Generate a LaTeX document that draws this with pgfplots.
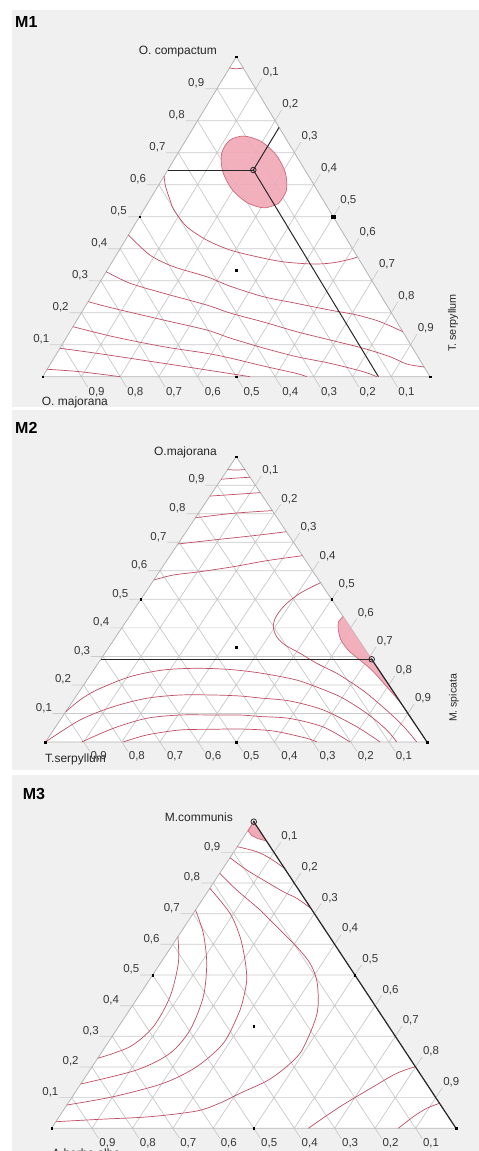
\documentclass[border=0pt]{standalone}
\usepackage{fontspec}
\setmainfont{Liberation Sans}
\usepackage{pgfplots}
\usepackage{pgfplotstable}
\pgfplotsset{compat=1.18}

\definecolor{panelbg}{RGB}{240,240,240}
\definecolor{gridc}{RGB}{202,202,202}
\definecolor{edgec}{RGB}{180,180,180}
\definecolor{cont}{RGB}{192,78,100}
\definecolor{pinkf}{RGB}{241,170,184}
\definecolor{pinkd}{RGB}{205,105,122}
\definecolor{tickc}{RGB}{55,55,55}
\definecolor{optc}{RGB}{40,40,40}

% ternary grid in (u,v): u along the base, v = share of the top component
\pgfplotstableread{
u v
0.019 0.1
0.95 0.1
nan nan
0.069 0.2
0.9 0.2
nan nan
0.119 0.3
0.85 0.3
nan nan
0.169 0.4
0.8 0.4
nan nan
0.219 0.5
0.75 0.5
nan nan
0.269 0.6
0.7 0.6
nan nan
0.319 0.7
0.65 0.7
nan nan
0.369 0.8
0.6 0.8
nan nan
0.419 0.9
0.55 0.9
nan nan
0.1 0
0.5665 0.933
nan nan
0.2 0
0.6165 0.833
nan nan
0.3 0
0.6665 0.733
nan nan
0.4 0
0.7165 0.633
nan nan
0.5 0
0.7665 0.533
nan nan
0.6 0
0.8165 0.433
nan nan
0.7 0
0.8665 0.333
nan nan
0.8 0
0.9165 0.233
nan nan
0.9 0
0.9665 0.133
nan nan
0.05 0.1
0.1165 -0.033
nan nan
0.1 0.2
0.2165 -0.033
nan nan
0.15 0.3
0.3165 -0.033
nan nan
0.2 0.4
0.4165 -0.033
nan nan
0.25 0.5
0.5165 -0.033
nan nan
0.3 0.6
0.6165 -0.033
nan nan
0.35 0.7
0.7165 -0.033
nan nan
0.4 0.8
0.8165 -0.033
nan nan
0.45 0.9
0.9165 -0.033
}\gridtab

\pgfplotsset{
  ternax/.style={anchor=south west, scale only axis, xmin=0, xmax=1, ymin=0, ymax=1,
    hide axis, clip=false, unbounded coords=jump},
  cont/.style={color=cont, line width=0.7pt, smooth},
}
\tikzset{
  lab/.style={font=\fontsize{11.5}{13}\selectfont, text=tickc, inner sep=0.6pt},
  ttl/.style={font=\fontsize{12}{14}\selectfont, text=black!85, inner sep=0pt},
  ptl/.style={font=\fontsize{16}{18}\selectfont\bfseries, text=black, inner sep=0pt},
}

\newcommand\ternframe{%
  \addplot[draw=none, fill=white] coordinates {(0,0) (1,0) (0.5,1) (0,0)};
  \addplot[gridc, line width=0.7pt] table[x=u, y=v] {\gridtab};
  \addplot[edgec, line width=0.8pt] coordinates {(0,0) (1,0) (0.5,1) (0,0)};
  \node[lab, anchor=south east] at (axis cs:0.019,0.1) {0,1};
  \node[lab, anchor=south east] at (axis cs:0.069,0.2) {0,2};
  \node[lab, anchor=south east] at (axis cs:0.119,0.3) {0,3};
  \node[lab, anchor=south east] at (axis cs:0.169,0.4) {0,4};
  \node[lab, anchor=south east] at (axis cs:0.219,0.5) {0,5};
  \node[lab, anchor=south east] at (axis cs:0.269,0.6) {0,6};
  \node[lab, anchor=south east] at (axis cs:0.319,0.7) {0,7};
  \node[lab, anchor=south east] at (axis cs:0.369,0.8) {0,8};
  \node[lab, anchor=south east] at (axis cs:0.419,0.9) {0,9};
  \node[lab, anchor=south west] at (axis cs:0.5665,0.933) {0,1};
  \node[lab, anchor=south west] at (axis cs:0.6165,0.833) {0,2};
  \node[lab, anchor=south west] at (axis cs:0.6665,0.733) {0,3};
  \node[lab, anchor=south west] at (axis cs:0.7165,0.633) {0,4};
  \node[lab, anchor=south west] at (axis cs:0.7665,0.533) {0,5};
  \node[lab, anchor=south west] at (axis cs:0.8165,0.433) {0,6};
  \node[lab, anchor=south west] at (axis cs:0.8665,0.333) {0,7};
  \node[lab, anchor=south west] at (axis cs:0.9165,0.233) {0,8};
  \node[lab, anchor=south west] at (axis cs:0.9665,0.133) {0,9};
  \node[lab, anchor=north west, yshift=1pt] at (axis cs:0.1165,-0.033) {0,9};
  \node[lab, anchor=north west, yshift=1pt] at (axis cs:0.2165,-0.033) {0,8};
  \node[lab, anchor=north west, yshift=1pt] at (axis cs:0.3165,-0.033) {0,7};
  \node[lab, anchor=north west, yshift=1pt] at (axis cs:0.4165,-0.033) {0,6};
  \node[lab, anchor=north west, yshift=1pt] at (axis cs:0.5165,-0.033) {0,5};
  \node[lab, anchor=north west, yshift=1pt] at (axis cs:0.6165,-0.033) {0,4};
  \node[lab, anchor=north west, yshift=1pt] at (axis cs:0.7165,-0.033) {0,3};
  \node[lab, anchor=north west, yshift=1pt] at (axis cs:0.8165,-0.033) {0,2};
  \node[lab, anchor=north west, yshift=1pt] at (axis cs:0.9165,-0.033) {0,1};
}

\begin{document}
\begin{tikzpicture}
\fill[white] (0pt,0pt) rectangle (479pt,1151pt);
\fill[panelbg] (12pt,744pt) rectangle (479pt,1141pt);
\fill[panelbg] (12pt,381pt) rectangle (479pt,741pt);
\fill[panelbg] (12pt,0pt) rectangle (479pt,376pt);

% ---------------- M1 ----------------
\node[ptl, anchor=base west] at (15pt,1123pt) {M1};
\node[ttl, anchor=base east] at (217pt,1096pt) {O. compactum};
\node[ttl, anchor=base west] at (41.7pt,745pt) {O. majorana};
\node[ttl, rotate=90, font=\fontsize{10.8}{12}\selectfont] at (453pt,828pt) {T. serpyllum};
\begin{axis}[ternax, at={(42.7pt,774.3pt)}, width=387.3pt, height=320pt]
\ternframe
\addplot[cont] coordinates {(0.482,0.965) (0.5,0.962) (0.518,0.965)};
\addplot[cont] coordinates {(0.3134,0.627) (0.317,0.596) (0.3287,0.552) (0.339,0.521) (0.3718,0.469) (0.4234,0.427) (0.4836,0.396) (0.5525,0.375) (0.6212,0.359) (0.6987,0.352) (0.7503,0.356) (0.7934,0.367) (0.813,0.374)};
\addplot[cont] coordinates {(0.2213,0.4428) (0.277,0.380) (0.3372,0.344) (0.4234,0.3125) (0.4836,0.283) (0.5696,0.25) (0.6558,0.229) (0.7418,0.208) (0.8107,0.193) (0.8709,0.172) (0.9297,0.1406)};
\addplot[cont] coordinates {(0.164,0.328) (0.2254,0.292) (0.3114,0.261) (0.4234,0.224) (0.4836,0.199) (0.5696,0.171) (0.6558,0.1406) (0.7418,0.1147) (0.8278,0.0888) (0.8967,0.0625) (0.9398,0.0397) (0.9848,0.0303)};
\addplot[cont] coordinates {(0.1172,0.2344) (0.1823,0.2138) (0.3114,0.1772) (0.4234,0.1459) (0.4836,0.1209) (0.5696,0.0897) (0.6558,0.0625) (0.7418,0.0419) (0.8278,0.0156) (0.8624,0)};
\addplot[cont] coordinates {(0.0781,0.1563) (0.1823,0.125) (0.3114,0.0938) (0.4234,0.0731) (0.4836,0.0584) (0.5696,0.0334) (0.6558,0.01) (0.6816,0)};
\addplot[cont] coordinates {(0.0444,0.0888) (0.1394,0.0731) (0.3114,0.0419) (0.432,0.0194) (0.5352,0)};
\addplot[cont] coordinates {(0.0116,0.0231) (0.0963,0.0156) (0.1996,0)};
\addplot[smooth, fill=pinkf, draw=pinkd, line width=0.7pt, fill opacity=0.92] coordinates {(0.6091,0.5413) (0.629,0.5813) (0.6266,0.6369) (0.6026,0.6934) (0.5631,0.7356) (0.519,0.7519) (0.4821,0.7381) (0.4622,0.6981) (0.4645,0.6425) (0.4885,0.5859) (0.528,0.5438) (0.5722,0.5275) (0.6091,0.5413)};
\addplot[optc, line width=1pt] coordinates {(0.323,0.6459) (0.5438,0.6459)};
\addplot[optc, line width=1pt] coordinates {(0.5438,0.6459) (0.6104,0.7791)};
\addplot[optc, line width=1pt] coordinates {(0.5438,0.6459) (0.8668,0)};
\addplot[only marks, mark=square*, mark size=0.8pt, black] coordinates {(0,0) (1,0) (0.5,1) (0.25,0.5) (0.5,0) (0.5,0.3333)};
\addplot[only marks, mark=square*, mark size=1.8pt, black] coordinates {(0.75,0.5)};
\addplot[only marks, mark=o, mark size=2.8pt, line width=0.8pt, optc] coordinates {(0.5438,0.6459)};
\addplot[only marks, mark=*, mark size=0.7pt, optc] coordinates {(0.5438,0.6459)};
\end{axis}

% ---------------- M2 ----------------
\node[ptl, anchor=base west] at (15pt,717.7pt) {M2};
\node[ttl, anchor=base east] at (217pt,695pt) {O.majorana};
\node[ttl, anchor=base west] at (45pt,388.5pt) {T.serpyllum};
\node[ttl, rotate=90, font=\fontsize{10.5}{12}\selectfont] at (454pt,453pt) {M. spicata};
\begin{axis}[ternax, at={(45.5pt,409pt)}, width=381.5pt, height=285.3pt]
\ternframe
\addplot[cont] coordinates {(0.4775,0.955) (0.5,0.953) (0.5225,0.955)};
\addplot[cont] coordinates {(0.4605,0.921) (0.5,0.925) (0.536,0.928)};
\addplot[cont] coordinates {(0.431,0.862) (0.4923,0.8675) (0.563,0.874)};
\addplot[cont] coordinates {(0.393,0.786) (0.4923,0.8016) (0.5945,0.811)};
\addplot[cont] coordinates {(0.347,0.694) (0.4398,0.708) (0.5447,0.7231) (0.6315,0.737)};
\addplot[cont] coordinates {(0.2839,0.5678) (0.335,0.5853) (0.405,0.5969) (0.4923,0.6144) (0.5798,0.6355) (0.6735,0.653)};
\addplot[cont] coordinates {(0.7208,0.5584) (0.6671,0.5212) (0.6278,0.4802) (0.6042,0.4392) (0.5971,0.4041) (0.606,0.3691) (0.6278,0.34) (0.6671,0.3109) (0.7109,0.2758) (0.7633,0.2408) (0.7982,0.2114) (0.8419,0.1707) (0.903,0.1006) (0.9423,0.0491) (0.973,0)};
\addplot[cont] coordinates {(0.0532,0.1062) (0.0904,0.1472) (0.1342,0.1823) (0.2215,0.2289) (0.3088,0.2524) (0.3963,0.2583) (0.4836,0.2541) (0.5623,0.2419) (0.6409,0.2226) (0.6847,0.2057) (0.772,0.1588) (0.8419,0.1006) (0.8944,0.0421) (0.9206,0)};
\addplot[cont] coordinates {(0,0) (0.0904,0.0771) (0.1777,0.1237) (0.2653,0.1532) (0.3526,0.1647) (0.4398,0.1647) (0.5098,0.1612) (0.5623,0.1542) (0.6409,0.1437) (0.7282,0.1122) (0.8157,0.0536) (0.8768,0)};
\addplot[cont] coordinates {(0.0949,0) (0.1777,0.048) (0.2653,0.0831) (0.3526,0.0946) (0.4398,0.0946) (0.5098,0.0946) (0.5623,0.0894) (0.6409,0.0824) (0.7282,0.0526) (0.7982,0)};
\addplot[cont] coordinates {(0.2039,0) (0.2653,0.0245) (0.3526,0.0421) (0.4398,0.0445) (0.5098,0.0456) (0.5971,0.0386) (0.6847,0.013) (0.7109,0)};
\addplot[smooth, fill=pinkf, draw=pinkd, line width=0.7pt, fill opacity=0.92] coordinates {(0.78,0.44) (0.768,0.4206) (0.7675,0.3926) (0.7746,0.3575) (0.7929,0.3225) (0.8157,0.2962) (0.855,0.2524) (0.8944,0.1938) (0.9322,0.1356)};
\addplot[optc, line width=1pt] coordinates {(0.145,0.29) (0.855,0.29)};
\addplot[optc, line width=1.2pt] coordinates {(0.855,0.29) (1,0)};
\addplot[only marks, mark=square*, mark size=0.8pt, black] coordinates {(0,0) (1,0) (0.5,1) (0.25,0.5) (0.75,0.5) (0.5,0) (0.5,0.3333)};
\addplot[only marks, mark=o, mark size=2.8pt, line width=0.8pt, optc] coordinates {(0.855,0.29)};
\addplot[only marks, mark=*, mark size=0.7pt, optc] coordinates {(0.855,0.29)};
\end{axis}

% ---------------- M3 ----------------
\node[ptl, anchor=base west] at (22.7pt,351pt) {M3};
\node[ttl, anchor=base east] at (233pt,329pt) {M.communis};
\node[ttl, anchor=base west] at (52pt,-6.5pt) {A.herba alba};
\begin{axis}[ternax, at={(51.5pt,22.7pt)}, width=404.5pt, height=306.6pt]
\ternframe
\addplot[cont] coordinates {(0.4592,0.9185) (0.5073,0.9022) (0.5402,0.8806) (0.576,0.848)};
\addplot[cont] coordinates {(0.4413,0.8826) (0.4826,0.8425) (0.5236,0.8099) (0.5731,0.7717) (0.6062,0.7502) (0.6412,0.7175)};
\addplot[cont] coordinates {(0.4159,0.8317) (0.4578,0.7772) (0.5155,0.712) (0.5649,0.6468) (0.6062,0.5923) (0.6391,0.5382) (0.6556,0.4837) (0.6596,0.4185) (0.6556,0.3695) (0.6391,0.3099) (0.6143,0.2446) (0.5773,0.1967) (0.532,0.1543) (0.466,0.1142) (0.4166,0.0825) (0.359,0.0564) (0.2435,0.0378) (0.1199,0.0294) (0.0108,0.0215)};
\addplot[cont] coordinates {(0.3914,0.7828) (0.4413,0.7012) (0.466,0.6249) (0.4784,0.5489) (0.4826,0.4837) (0.4734,0.4185) (0.4611,0.3695) (0.4247,0.2772) (0.359,0.2009) (0.2764,0.1468) (0.1528,0.1031) (0.038,0.076)};
\addplot[cont] coordinates {(0.356,0.712) (0.3753,0.636) (0.3837,0.5382) (0.3753,0.4292) (0.3424,0.3206) (0.293,0.2446) (0.2106,0.1902) (0.0722,0.1445)};
\addplot[cont] coordinates {(0.3125,0.6249) (0.3135,0.5382) (0.293,0.4292) (0.2517,0.3314) (0.1941,0.2661) (0.1142,0.2283)};
\addplot[cont] coordinates {(0.6349,0) (0.7132,0.0705) (0.7956,0.1357) (0.8534,0.1794) (0.8995,0.2009)};
\addplot[cont] coordinates {(0.8574,0) (0.8944,0.0378) (0.9276,0.0652) (0.9592,0.0815)};
\addplot[fill=pinkf, draw=pinkd, line width=0.7pt] coordinates {(0.5,1) (0.486,0.97) (0.495,0.955) (0.51,0.945) (0.5315,0.937)};
\addplot[optc, line width=1.2pt] coordinates {(0.5,1) (1,0)};
\addplot[only marks, mark=square*, mark size=0.8pt, black] coordinates {(0,0) (1,0) (0.25,0.5) (0.5,0) (0.5,0.3333) (0.75,0.5)};
\addplot[only marks, mark=o, mark size=2.8pt, line width=0.8pt, optc] coordinates {(0.5,1)};
\addplot[only marks, mark=*, mark size=0.7pt, optc] coordinates {(0.5,1)};
\end{axis}

\pgfresetboundingbox
\useasboundingbox (0pt,0pt) rectangle (479pt,1151pt);
\end{tikzpicture}
\end{document}
